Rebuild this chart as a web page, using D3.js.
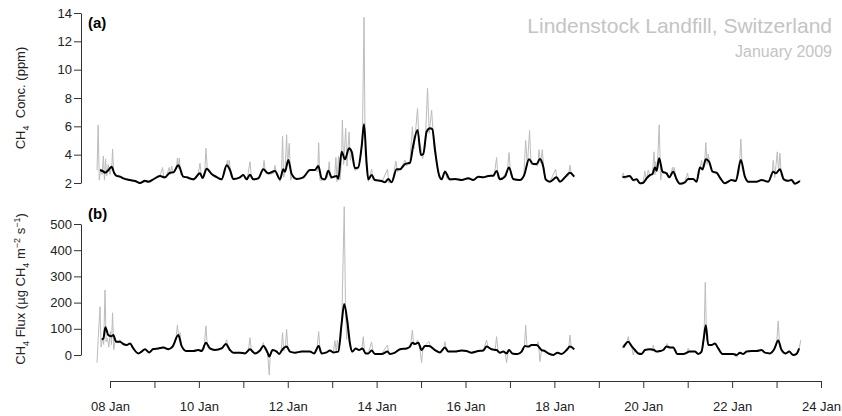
<!DOCTYPE html>
<html>
<head>
<meta charset="utf-8">
<script src="https://cdn.jsdelivr.net/npm/d3@7"></script>
<style>
  body { margin: 0; background: #fff; }
  svg { font-family: "Liberation Sans", Arial, sans-serif; }
</style>
</head>
<body>
<div class="chart"></div>
<script>
// hours counted from 07 Jan 2009 00:00 (UTC); null marks the data gap
var concRaw = [
  [17.0,2.9],[17.6,6.1],[18.2,2.2],[19.0,3.0],[19.8,2.6],[20.4,3.9],[21.0,2.2],[21.6,3.7],[22.2,2.5],[23.0,3.3],
  [24.0,2.6],[25.0,3.2],[25.4,4.4],[26.0,2.7],[27.5,2.5],[30,2.4],[33,2.3],[36,2.2],[40,2.0],[44,2.1],
  [48,2.3],[51,2.5],[52.4,3.1],[53.2,2.3],[55,2.7],[56.0,3.1],[56.6,2.6],[57.3,3.2],[58.2,2.7],[60.0,3.2],
  [60.4,3.75],[61.0,3.0],[61.4,3.75],[62.2,2.6],[64,2.4],[66,2.4],[69,2.2],[71.5,2.5],[72.6,3.4],[73.5,2.3],
  [75.2,2.8],[75.8,4.45],[76.6,2.9],[78.9,2.6],[81.6,2.4],[84.3,2.2],[86.5,3.0],[87.4,3.6],[88.0,3.1],[88.4,3.6],
  [89.4,2.5],[91,2.2],[94,2.4],[96,2.6],[98,2.2],[99.6,3.5],[100.4,2.3],[102,2.2],[104,2.4],[106.4,2.8],
  [107.2,3.6],[108,2.7],[110,2.6],[112.5,2.7],[113.1,3.25],[114,2.6],[115.8,2.1],[116.6,2.6],[117.2,5.3],[117.8,2.4],
  [118.6,3.0],[119.4,5.4],[119.9,3.2],[120.8,4.8],[121.6,2.2],[122.5,2.6],[125,2.3],[128.4,2.4],[132,2.9],[134.7,2.9],
  [136.2,2.8],[136.7,4.85],[137.4,2.2],[140,2.2],[141.5,2.4],[142.4,3.5],[143,2.3],[145.3,2.4],[146.0,3.8],[146.6,2.1],
  [147.4,3.9],[148.2,2.2],[149.0,3.5],[149.5,6.45],[150.2,3.3],[151.3,5.85],[152.0,3.2],[153.1,5.6],[153.8,3.6],[155,4.2],
  [156.3,2.9],[158.1,3.0],[159.5,4.0],[160.3,5.0],[161.2,13.7],[161.8,4.0],[162.6,3.0],[163.5,2.1],[165.3,2.97],[166,2.2],
  [168,2.2],[171,2.1],[173.9,2.97],[174.6,2.0],[176.5,2.1],[178.4,3.55],[179.2,2.8],[181,3.0],[183.3,3.62],[184.2,3.2],
  [186,3.5],[187.3,5.97],[188.2,4.4],[190.1,7.27],[190.9,5.0],[191.9,4.5],[192.8,3.7],[194.2,4.6],[195.5,8.68],[196.4,5.5],
  [197.7,7.15],[198.6,5.4],[199.5,4.8],[200.6,3.4],[201.7,2.4],[203.1,2.2],[204.9,2.9],[206,2.3],[208,2.2],[211,2.3],
  [214,2.2],[217.5,2.3],[220,2.2],[223,2.4],[226,2.4],[229,2.5],[231.5,2.5],[232.8,3.8],[233.6,2.3],[236,2.4],
  [238.6,2.8],[239.5,4.15],[240.4,2.6],[242,2.2],[245.4,2.2],[247.5,2.5],[248.5,5.0],[249.4,3.2],[250.6,5.7],[251.4,3.3],
  [253,3.3],[255,3.2],[255.7,4.35],[256.5,3.4],[257.5,4.35],[258.3,2.9],[259.3,2.2],[261.6,2.1],[264.7,2.97],[265.4,2.3],
  [267,2.1],[269.7,2.4],[271.6,2.5],[272.4,3.25],[273.2,2.6],[275,2.4],
  [288,null],
  [300.6,2.4],[301.2,2.7],[302,2.3],[304,2.5],[305.5,2.3],[307,2.1],[308.4,2.3],[310.2,1.95],[312,2.1],[312.9,2.85],
  [313.6,2.2],[314.7,2.9],[315.6,2.5],[317.0,2.7],[317.8,4.2],[318.4,2.6],[318.7,3.5],[319.5,2.8],[320.6,6.1],[321.4,2.2],
  [322.4,2.9],[324.6,2.6],[326.5,2.4],[327.8,3.1],[328.2,2.6],[328.7,3.1],[330,2.2],[332,1.95],[334.5,2.1],[335.9,2.7],
  [336.6,2.2],[339,2.3],[341,2.1],[342.5,2.9],[343.5,3.6],[344.2,2.9],[345.1,3.4],[345.8,4.85],[346.5,3.3],[347.1,4.05],
  [348,3.2],[349.4,2.8],[351.6,2.7],[353.4,2.4],[356,2.0],[359.7,2.2],[362,2.1],[363.8,2.8],[364.7,5.1],[365.5,3.0],
  [367,2.4],[369,2.1],[373,2.1],[376,2.2],[379.5,2.1],[381.5,2.5],[382.2,3.6],[383,2.4],[383.8,3.4],[384.4,4.2],
  [385.1,2.8],[385.8,4.1],[386.6,2.5],[388,2.2],[390.3,2.1],[392,2.3],[394,1.95],[396,2.1],[397.1,2.25]
];

var concSmooth = [
  [18.6,2.92],[20.4,2.82],[21.3,2.73],[23.1,2.9],[24.9,3.15],[26.2,2.73],[27.6,2.5],[29.4,2.45],[31.2,2.33],[34.8,2.21],
  [37.5,2.14],[40.2,2.0],[42.9,2.16],[44.7,2.09],[47.4,2.26],[51.0,2.49],[53.7,2.4],[56.4,2.73],[58.2,2.75],[60.9,3.25],
  [63.6,2.45],[65.4,2.4],[69.0,2.26],[72.6,2.68],[74.0,2.35],[76.2,3.01],[78.9,2.64],[81.6,2.42],[84.3,2.26],[87.0,3.25],
  [88.8,2.92],[90.6,2.28],[94.2,2.4],[96.0,2.56],[97.8,2.26],[99.6,2.59],[101.4,2.26],[104.1,2.33],[106.8,2.97],[109.5,2.68],
  [113.1,2.85],[115.8,2.26],[117.6,2.97],[118.5,2.8],[120.3,3.62],[122.1,2.64],[124.8,2.28],[128.4,2.4],[132.0,2.92],[134.7,2.92],
  [136.5,3.2],[138.3,2.33],[140.1,2.26],[141.9,2.87],[143.7,2.4],[146.4,2.5],[147.3,2.3],[149.1,4.21],[150.9,3.67],[153.1,4.45],
  [154.5,4.21],[156.3,3.04],[158.1,3.1],[159.9,4.56],[161.2,6.14],[162.6,3.39],[163.5,2.26],[165.3,2.56],[167.1,2.21],[170.7,2.14],
  [172.5,2.05],[174.3,2.28],[176.1,2.05],[178.8,2.97],[180.6,2.97],[183.3,3.34],[186.0,3.43],[187.8,4.68],[190.1,5.74],[191.9,3.98],
  [193.2,4.05],[195.0,5.62],[196.8,5.86],[198.1,5.79],[199.5,4.33],[201.7,2.56],[203.1,2.26],[204.9,2.8],[207.6,2.26],[210.3,2.28],
  [213.9,2.21],[217.5,2.33],[220.2,2.21],[222.9,2.45],[225.6,2.4],[228.3,2.5],[231.0,2.52],[232.8,2.85],[234.6,2.26],[237.3,2.45],
  [239.5,3.1],[241.8,2.28],[245.4,2.21],[247.7,2.56],[250.3,3.67],[252.6,3.34],[254.4,3.34],[256.2,3.69],[258.0,3.15],[259.3,2.26],
  [261.6,2.09],[265.2,2.4],[267.0,2.09],[269.7,2.4],[272.4,2.73],[274.7,2.45],
  [288,null],
  [300.8,2.4],[303.0,2.45],[304.8,2.5],[306.6,2.21],[308.4,2.26],[310.2,1.98],[312.0,2.02],[313.8,2.33],[315.6,2.56],[317.0,2.64],
  [318.3,3.1],[319.2,2.87],[320.6,3.74],[322.4,2.8],[324.6,2.68],[326.0,2.4],[328.2,2.8],[330.0,2.26],[331.8,1.95],[334.5,2.05],
  [336.3,2.28],[339.0,2.28],[340.8,2.09],[342.6,3.1],[344.0,2.96],[345.8,3.67],[347.6,3.5],[349.4,2.8],[351.6,2.73],[353.4,2.38],
  [356.1,1.98],[359.7,2.21],[362.0,2.14],[364.7,3.62],[366.9,2.45],[368.7,2.09],[373.2,2.09],[375.9,2.21],[379.5,2.09],[382.2,2.8],
  [383.6,2.68],[385.8,2.97],[387.9,2.26],[390.3,2.16],[392.1,2.21],[393.9,1.95],[396.6,2.14]
];

var fluxRaw = [
  [17.0,-29],[17.6,60],[18.6,184],[19.2,30],[20.0,65],[20.6,40],[21.3,248],[21.9,50],[22.6,64],[23.4,30],
  [24.2,90],[24.8,40],[25.4,161],[26.0,20],[27,60],[28.5,45],[29.4,58],[30.5,40],[33,36],[35,45],
  [37,22],[39.3,4],[41,16],[43,22],[45.2,8],[47.4,25],[50,24],[52.8,32],[55.5,20],[57.8,34],
  [59.6,60],[60.4,114],[61.1,70],[61.8,85],[62.7,30],[65.4,13],[69,16],[72,20],[74.8,22],[75.8,111],
  [76.6,30],[78,22],[81,18],[84.3,27],[86.2,40],[87.0,58],[87.8,30],[88.8,16],[91,8],[94,10],
  [97,5],[98.8,20],[99.6,66],[100.4,12],[102.3,4],[105,18],[106.2,30],[106.8,47],[107.6,20],[109.1,8],
  [110.0,-76],[110.6,8],[111.8,22],[114,12],[115.4,2],[116.5,20],[117.2,85],[117.8,15],[118.7,30],[119.4,98],
  [120.1,25],[121.2,12],[124,8],[127.5,14],[132,12],[134.2,5],[135.8,25],[136.7,89],[137.5,15],[138.3,5],
  [141,10],[142.8,18],[144.6,8],[145.5,55],[146.2,10],[146.8,57],[147.5,12],[148.6,60],[149.2,130],[150.5,566],
  [151.2,180],[151.8,60],[152.5,130],[153.4,40],[154.9,10],[156.7,26],[158.5,18],[160.0,22],[160.8,70],[161.5,10],
  [163.5,5],[165.3,50],[166,10],[167.1,3],[170.7,5],[173.9,38],[174.6,3],[177.9,9],[180.6,22],[184.2,26],
  [186.2,30],[187.3,95],[188,38],[189.2,45],[190.1,57],[191.2,30],[192.3,-29],[193,25],[194.1,36],[196.3,51],
  [197.2,30],[199.5,18],[202.2,9],[204.2,25],[204.9,51],[205.6,20],[206.7,12],[210.3,14],[213.9,17],[216.6,14],
  [219.3,8],[222.9,16],[225.6,18],[227.4,57],[228.2,28],[230.1,22],[232.0,18],[232.8,70],[233.6,15],[234.6,8],
  [236.4,14],[237.4,8],[238.2,-29],[239.0,12],[239.5,20],[241.3,5],[244.1,3],[246.3,14],[247.8,30],[248.5,114],
  [249.2,30],[251.7,40],[254.4,36],[255.3,51],[256.2,-25],[257.1,20],[258.9,14],[260.7,6],[263.4,0],[265.7,10],
  [267.9,4],[270.6,18],[271.8,30],[272.4,76],[273.2,28],[275,20],
  [288,null],
  [300.6,25],[301.5,40],[302.6,35],[303.9,70],[304.8,40],[305.7,34],[306.6,0],[307.5,20],[309.3,5],[311.1,4],
  [312.9,20],[315.6,22],[317.0,15],[317.4,38],[318.2,12],[319.2,14],[321,15],[322.8,20],[324.2,28],[325.0,44],
  [325.8,26],[328.2,30],[330.4,4],[333.6,4],[335.6,10],[336.3,25],[337.2,12],[339.9,13],[341.7,4],[343.5,12],
  [344.8,60],[345.5,277],[346.2,60],[347.1,40],[348.9,38],[350.7,44],[352.5,24],[354.8,4],[357.9,5],[360.6,3],
  [362.4,-8],[364.2,10],[366,4],[367.8,14],[370.5,15],[373.2,15],[375.9,19],[377.7,9],[380.4,6],[382.7,22],
  [384.0,40],[384.9,130],[385.7,30],[386.7,18],[389,6],[390.8,13],[393,0],[394.8,4],[396.2,25],[397.1,57]
];

var fluxSmooth = [
  [19.5,60],[20.4,62],[21.5,106],[23.1,76],[24.9,72],[25.8,76],[27.2,51],[29.4,51],[31.2,42],[33.0,38],
  [34.8,44],[36.6,25],[39.3,6],[41.1,13],[42.9,22],[45.2,10],[47.4,23],[50.1,25],[52.8,29],[55.5,22],
  [57.8,32],[60.9,76],[62.7,34],[65.4,15],[69.0,15],[71.7,19],[73.5,15],[75.8,47],[78.0,25],[80.7,19],
  [84.3,25],[86.6,42],[88.8,19],[90.6,9],[94.2,9],[96.9,6],[99.6,22],[102.3,6],[105.0,17],[106.8,34],
  [109.1,9],[110.0,-6],[111.8,19],[114.0,13],[115.4,4],[117.2,22],[119.4,32],[121.2,13],[123.9,9],[127.5,13],
  [132.0,13],[134.2,6],[136.7,34],[138.3,6],[141.0,10],[142.8,17],[144.6,10],[147.3,13],[149.1,121],[150.5,195],
  [152.3,121],[153.6,44],[154.9,13],[156.7,25],[158.5,19],[160.3,25],[162.1,6],[163.5,6],[165.3,17],[167.1,4],
  [170.7,4],[173.9,13],[175.2,4],[177.9,9],[180.6,22],[184.2,25],[186.0,32],[187.3,47],[188.7,42],[190.5,47],
  [192.3,19],[194.1,34],[196.3,34],[199.5,19],[202.2,10],[204.9,29],[206.7,13],[210.3,13],[213.9,17],[216.6,15],
  [219.3,9],[222.9,15],[225.6,17],[227.4,32],[230.1,22],[232.8,19],[234.6,9],[236.4,13],[238.2,6],[239.5,19],
  [241.3,6],[244.1,4],[246.3,13],[248.1,34],[249.9,32],[251.7,38],[254.4,38],[257.1,19],[258.9,15],[260.7,6],
  [263.4,0],[265.7,9],[267.9,4],[270.6,19],[272.4,32],[274.7,22],
  [288,null],
  [301.2,29],[303.9,51],[305.7,34],[307.5,19],[309.3,6],[311.1,4],[312.9,19],[315.6,22],[317.8,19],[319.2,13],
  [321.0,15],[322.8,19],[324.6,32],[326.4,29],[328.2,29],[330.4,4],[333.6,4],[337.2,13],[339.9,13],[341.7,4],
  [343.5,13],[344.8,70],[345.8,114],[347.1,38],[348.9,38],[350.7,44],[352.5,25],[354.8,4],[357.9,4],[360.6,4],
  [362.4,0],[364.2,9],[366.0,4],[367.8,13],[370.5,15],[373.2,15],[375.9,19],[377.7,9],[380.4,6],[382.7,22],
  [384.9,55],[386.7,19],[389.0,6],[390.8,13],[393.0,0],[394.8,4],[396.2,25]
];

var concTicks = [2, 4, 6, 8, 10, 12, 14];
var fluxTicks = [0, 100, 200, 300, 400, 500];
var dayStart = Date.UTC(2009, 0, 7);

/*---------------------------------------------------------------
svg + scales
---------------------------------------------------------------*/
var w = 842,
    h = 416,
    grey = '#bcbcbc';

var svg = d3.select('.chart')
    .append('svg')
    .attr('width', w)
    .attr('height', h);

var toDate = function(hr) { return new Date(dayStart + hr * 3600e3); };

var x = d3.scaleUtc()
    .domain([new Date(Date.UTC(2009, 0, 8)), new Date(Date.UTC(2009, 0, 24))])
    .range([110, 821]);

var yConc = d3.scaleLinear().domain([2, 14]).range([183, 13]);
var yFlux = d3.scaleLinear().domain([0, 500]).range([355, 224]);

var lineFor = function(y) {
    return d3.line()
        .defined(function(d) { return d[1] != null; })
        .x(function(d) { return x(toDate(d[0])); })
        .y(function(d) { return y(d[1]); });
};

var styleAxis = function(g) {
    g.selectAll('text').attr('font-size', 13).attr('fill', '#222');
    g.selectAll('path, line').attr('stroke', '#333');
};

/*---------------------------------------------------------------
panel (a)
---------------------------------------------------------------*/
svg.append('path')
    .datum(concRaw)
    .attr('fill', 'none')
    .attr('stroke', grey)
    .attr('stroke-width', 1)
    .attr('d', lineFor(yConc));

svg.append('path')
    .datum(concSmooth)
    .attr('fill', 'none')
    .attr('stroke', '#000')
    .attr('stroke-width', 2)
    .attr('stroke-linejoin', 'round')
    .attr('d', lineFor(yConc).curve(d3.curveMonotoneX));

svg.append('g')
    .attr('transform', 'translate(81,0)')
    .call(d3.axisLeft(yConc).tickValues(concTicks).tickSize(7).tickSizeOuter(0).tickPadding(2))
    .call(styleAxis);

/*---------------------------------------------------------------
panel (b)
---------------------------------------------------------------*/
svg.append('path')
    .datum(fluxRaw)
    .attr('fill', 'none')
    .attr('stroke', grey)
    .attr('stroke-width', 1)
    .attr('d', lineFor(yFlux));

svg.append('path')
    .datum(fluxSmooth)
    .attr('fill', 'none')
    .attr('stroke', '#000')
    .attr('stroke-width', 2)
    .attr('stroke-linejoin', 'round')
    .attr('d', lineFor(yFlux).curve(d3.curveMonotoneX));

svg.append('g')
    .attr('transform', 'translate(81,0)')
    .call(d3.axisLeft(yFlux).tickValues(fluxTicks).tickSize(7).tickSizeOuter(0).tickPadding(2))
    .call(styleAxis);

// time axis: a tick every day, a label every second day
var fmt = d3.utcFormat('%d %b');
svg.append('g')
    .attr('transform', 'translate(0,381)')
    .call(d3.axisBottom(x)
        .ticks(d3.utcDay.every(1))
        .tickSize(7)
        .tickSizeOuter(0)
        .tickPadding(14)
        .tickFormat(function(d) { return d.getUTCDate() % 2 === 0 ? fmt(d) : ''; }))
    .call(styleAxis);

/*---------------------------------------------------------------
labels
---------------------------------------------------------------*/
svg.append('text').attr('x', 88).attr('y', 28)
    .attr('font-size', 15).attr('font-weight', 'bold').text('(a)');
svg.append('text').attr('x', 88).attr('y', 219)
    .attr('font-size', 15).attr('font-weight', 'bold').text('(b)');

svg.append('text')
    .attr('x', 832).attr('y', 33)
    .attr('text-anchor', 'end').attr('font-size', 21).attr('fill', '#c4c4c4')
    .text('Lindenstock Landfill, Switzerland');
svg.append('text')
    .attr('x', 832).attr('y', 57)
    .attr('text-anchor', 'end').attr('font-size', 16).attr('fill', '#c4c4c4')
    .text('January 2009');

var yl1 = svg.append('text')
    .attr('transform', 'translate(25,98) rotate(-90)')
    .attr('text-anchor', 'middle').attr('font-size', 13).attr('fill', '#222');
yl1.append('tspan').text('CH');
yl1.append('tspan').attr('dy', 4).attr('font-size', 9).text('4');
yl1.append('tspan').attr('dy', -4).text('\u00a0 Conc. (ppm)');

var yl2 = svg.append('text')
    .attr('transform', 'translate(25,289) rotate(-90)')
    .attr('text-anchor', 'middle').attr('font-size', 13).attr('fill', '#222');
yl2.append('tspan').text('CH');
yl2.append('tspan').attr('dy', 4).attr('font-size', 9).text('4');
yl2.append('tspan').attr('dy', -4).text(' Flux (\u00b5g CH');
yl2.append('tspan').attr('dy', 4).attr('font-size', 9).text('4');
yl2.append('tspan').attr('dy', -4).text(' m');
yl2.append('tspan').attr('dy', -5).attr('font-size', 9).text('\u22122');
yl2.append('tspan').attr('dy', 5).text(' s');
yl2.append('tspan').attr('dy', -5).attr('font-size', 9).text('\u22121');
yl2.append('tspan').attr('dy', 5).text(')');
</script>
</body>
</html>
